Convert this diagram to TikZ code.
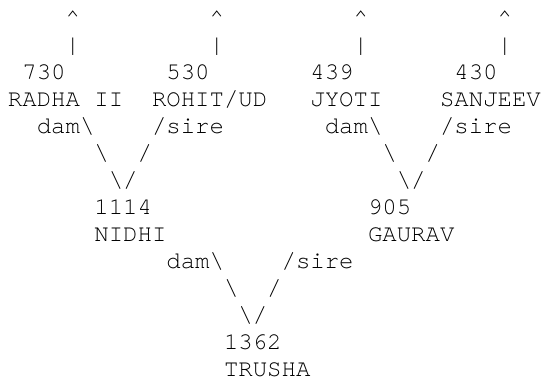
\documentclass[tikz,border=0pt]{standalone}
\usepackage{fontspec}
\setmonofont{TeX Gyre Cursor}
\usepackage{tikz}
\usetikzlibrary{positioning}

\begin{document}
\begin{tikzpicture}[
    % x = one character cell (0.6em of 24pt), y = one text line
    x=14.4pt, y=-27pt,
    cell/.style={anchor=base west, inner sep=0pt, outer sep=0pt,
                 font=\fontsize{24pt}{27pt}\selectfont\ttfamily, text=black},
    tick/.style={cell}
  ]

  % page frame: reference margins (origin = first baseline, first column)
  \useasboundingbox (-8pt, 25pt) rectangle (537pt, -356pt);

  % ── Top rows: arrows up to earlier generations ─────────────────────────
  \node[tick] (upA) at ( 4, 0) {\textasciicircum};
  \node[tick] (upB) at (14, 0) {\textasciicircum};
  \node[tick] (upC) at (24, 0) {\textasciicircum};
  \node[tick] (upD) at (34, 0) {\textasciicircum};
  \node[tick] (barA) at ( 4, 1) {\textbar};
  \node[tick] (barB) at (14, 1) {\textbar};
  \node[tick] (barC) at (24, 1) {\textbar};
  \node[tick] (barD) at (34, 1) {\textbar};

  % ── Grandparents: id and name ───────────────────────────────────────────
  \node[cell] (radhaId)   at ( 1, 2) {730};
  \node[cell] (rohitId)   at (11, 2) {530};
  \node[cell] (jyotiId)   at (21, 2) {439};
  \node[cell] (sanjeevId) at (31, 2) {430};
  \node[cell] (radha)     at ( 0, 3) {RADHA II};
  \node[cell] (rohit)     at (10, 3) {ROHIT/UD};
  \node[cell] (jyoti)     at (21, 3) {JYOTI};
  \node[cell] (sanjeev)   at (30, 3) {SANJEEV};

  % dam / sire branches down to the parents
  \node[cell] (damL)  at ( 2, 4) {dam\textbackslash};
  \node[cell] (sireL) at (10, 4) {/sire};
  \node[cell] (damR)  at (22, 4) {dam\textbackslash};
  \node[cell] (sireR) at (30, 4) {/sire};
  \node[cell] (bsL)   at ( 6, 5) {\textbackslash};
  \node[cell] (slL)   at ( 9, 5) {/};
  \node[cell] (bsR)   at (26, 5) {\textbackslash};
  \node[cell] (slR)   at (29, 5) {/};
  \node[cell] (vL)    at ( 7, 6) {\textbackslash/};
  \node[cell] (vR)    at (27, 6) {\textbackslash/};

  % ── Parents ─────────────────────────────────────────────────────────────
  \node[cell] (nidhiId)  at ( 6, 7) {1114};
  \node[cell] (gauravId) at (25, 7) {905};
  \node[cell] (nidhi)    at ( 6, 8) {NIDHI};
  \node[cell] (gaurav)   at (25, 8) {GAURAV};

  \node[cell] (damM)  at (11,  9) {dam\textbackslash};
  \node[cell] (sireM) at (19,  9) {/sire};
  \node[cell] (bsM)   at (15, 10) {\textbackslash};
  \node[cell] (slM)   at (18, 10) {/};
  \node[cell] (vM)    at (16, 11) {\textbackslash/};

  % ── Offspring ───────────────────────────────────────────────────────────
  \node[cell] (trushaId) at (15, 12) {1362};
  \node[cell] (trusha)   at (15, 13) {TRUSHA};

\end{tikzpicture}
\end{document}
